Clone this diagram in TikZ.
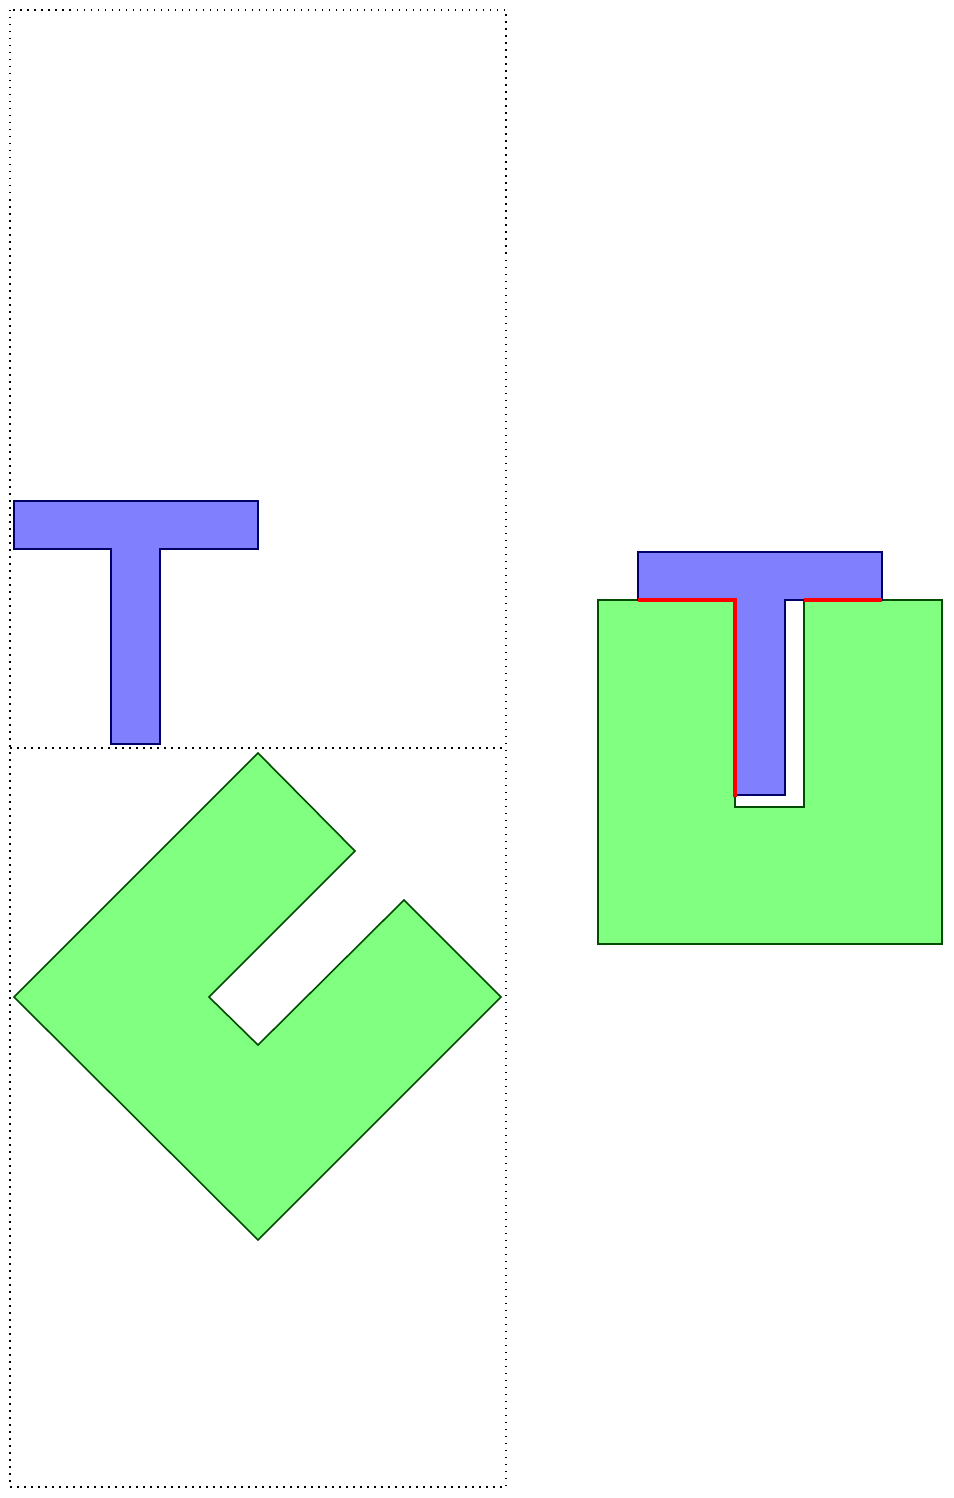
\documentclass[tikz,border=0pt]{standalone}
\usepackage{tikz}
\usepackage{xcolor}
\usetikzlibrary{calc}

\begin{document}
\begin{tikzpicture}[x=1pt, y=-1pt,
    tpiece/.style={draw=blue!40!black, fill=blue!50, line width=1.6pt},
    upiece/.style={draw=green!30!black, fill=green!50, line width=1.6pt},
    frame/.style={dash pattern=on 1.5pt off 5.5pt, line width=1.5pt},
    contact/.style={draw=red, line width=4.5pt}]
    \useasboundingbox (0,0) rectangle (953,1498);

    % Frames of the two pieces
    \draw[frame] (10,10) rectangle (506,1487);
    \draw[frame] (10,748) -- (506,748);

    % T piece
    \draw[tpiece] (14,501) -- (258,501) -- (258,549) -- (160,549) -- (160,744)
        -- (111,744) -- (111,549) -- (14,549) -- cycle;

    % Rotated notched square
    \draw[upiece] (258,753) -- (355,851) -- (209,997) -- (258,1045) -- (404,900)
        -- (501,997) -- (258,1240) -- (14,997) -- cycle;

    % Assembled
    \draw[upiece] (598,600) -- (735,600) -- (735,807) -- (804,807) -- (804,600)
        -- (942,600) -- (942,944) -- (598,944) -- cycle;
    \draw[tpiece] (638,552) -- (882,552) -- (882,600) -- (785,600) -- (785,795)
        -- (735,795) -- (735,600) -- (638,600) -- cycle;

    % Contact edges
    \draw[contact] (638,600) -- (735,600) -- (735,797);
    \draw[contact] (804,600) -- (882,600);
\end{tikzpicture}
\end{document}
